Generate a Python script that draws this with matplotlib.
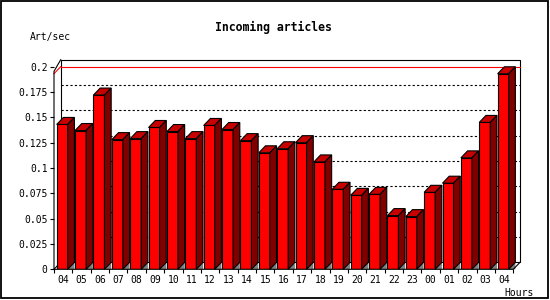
import numpy as np
import matplotlib
matplotlib.use('Agg')
import matplotlib.pyplot as plt
from matplotlib.patches import Polygon, Rectangle

# data
hours = ['04', '05', '06', '07', '08', '09', '10', '11', '12', '13', '14', '15',
         '16', '17', '18', '19', '20', '21', '22', '23', '00', '01', '02', '03', '04']
art_per_sec = [0.143, 0.137, 0.172, 0.128, 0.129, 0.140, 0.136, 0.129, 0.142, 0.138,
               0.127, 0.115, 0.119, 0.125, 0.106, 0.079, 0.073, 0.074, 0.053, 0.052,
               0.076, 0.085, 0.110, 0.145, 0.193]
yticks = [0, 0.025, 0.05, 0.075, 0.1, 0.125, 0.15, 0.175, 0.2]
ytick_labels = ['0', '0.025', '0.05', '0.075', '0.1', '0.125', '0.15', '0.175', '0.2']

FRONT = '#ff0000'
TOP = '#c80000'
SIDE = '#800000'
SHADOW = '#808080'
MONO = 'DejaVu Sans Mono'

n = len(hours)
dx = 0.365     # depth in slot units
dy = 0.0069    # depth in value units
bw = 0.6
off = 0.147
ymax = 0.2

fig = plt.figure(figsize=(5.5, 3), dpi=100)
fig.patch.set_facecolor('white')
ax = fig.add_axes([54 / 550, 30.7 / 300, 459.3 / 550, 202.6 / 300])
ax.patch.set_visible(False)
ax.set_xlim(0, n)
ax.set_ylim(0, ymax)
for s in ax.spines.values():
    s.set_visible(False)

# back wall
ax.add_patch(Rectangle((dx, dy), n, ymax, facecolor='white', edgecolor='black',
                       lw=0.8, zorder=0.5, clip_on=False))
for v in yticks[1:-1]:
    ax.plot([dx, n + dx], [v + dy, v + dy], color='black', lw=0.8,
            linestyle=(0, (2, 2)), zorder=0.6, clip_on=False)
ax.plot([dx, n + dx], [ymax, ymax], color='red', lw=0.8, zorder=0.6, clip_on=False)
ax.plot([0, dx], [ymax - dy, ymax], color='red', lw=0.8, zorder=0.6, clip_on=False)

# axis frame lines
ax.plot([0, 0, dx], [0, 0.1954, ymax + dy], color='black', lw=0.8, clip_on=False, zorder=3)
ax.plot([0, n, n + dx], [0, 0, dy], color='black', lw=0.8, clip_on=False, zorder=3)
ax.plot([0, dx], [0, dy], color='black', lw=0.8, clip_on=False, zorder=0.7)

# bars
x = np.arange(n) + off
ax.bar(x, art_per_sec, width=bw, align='edge', color=FRONT, edgecolor='black',
       lw=0.8, zorder=2)
for xl, v in zip(x, art_per_sec):
    xr = xl + bw
    ax.add_patch(Polygon([(xr, 0), (xr + dx, dy), (xr + dx, 0)], closed=True,
                         facecolor=SHADOW, edgecolor='none', zorder=1.9, clip_on=False))
    ax.add_patch(Polygon([(xl, v), (xl + dx, v + dy), (xr + dx, v + dy), (xr, v)],
                         closed=True, facecolor=TOP, edgecolor='black', lw=0.8,
                         zorder=2, clip_on=False))
    ax.add_patch(Polygon([(xr, v), (xr + dx, v + dy), (xr + dx, dy), (xr, 0)],
                         closed=True, facecolor=SIDE, edgecolor='black', lw=0.8,
                         zorder=2, clip_on=False))

# ticks
ax.set_yticks(yticks)
ax.set_yticklabels(ytick_labels, family=MONO, fontsize=7)
ax.tick_params(axis='y', direction='out', length=3, width=0.8, pad=1.5)
ax.set_xticks(np.arange(n) + 0.5)
ax.set_xticklabels(hours, family=MONO, fontsize=7)
ax.set_xticks(np.arange(n + 1), minor=True)
ax.tick_params(axis='x', which='major', length=0, pad=4)
ax.tick_params(axis='x', which='minor', direction='out', length=3, width=0.8)

fig.text(273.8 / 550, 1 - 27 / 300, 'Incoming articles', family=MONO, weight='bold',
         fontsize=8.3, ha='center', va='center')
fig.text(30 / 550, 1 - 36.7 / 300, 'Art/sec', family=MONO, fontsize=7,
         ha='left', va='center')
fig.text(533.7 / 550, 1 - 292.5 / 300, 'Hours', family=MONO, fontsize=7,
         ha='right', va='center')

# outer border
fig.add_artist(Rectangle((0.8 / 550, 1.8 / 300), 547 / 550, 297 / 300,
                         transform=fig.transFigure, fill=False, edgecolor='black', lw=1.3))

fig.savefig('out.png', dpi=100)
